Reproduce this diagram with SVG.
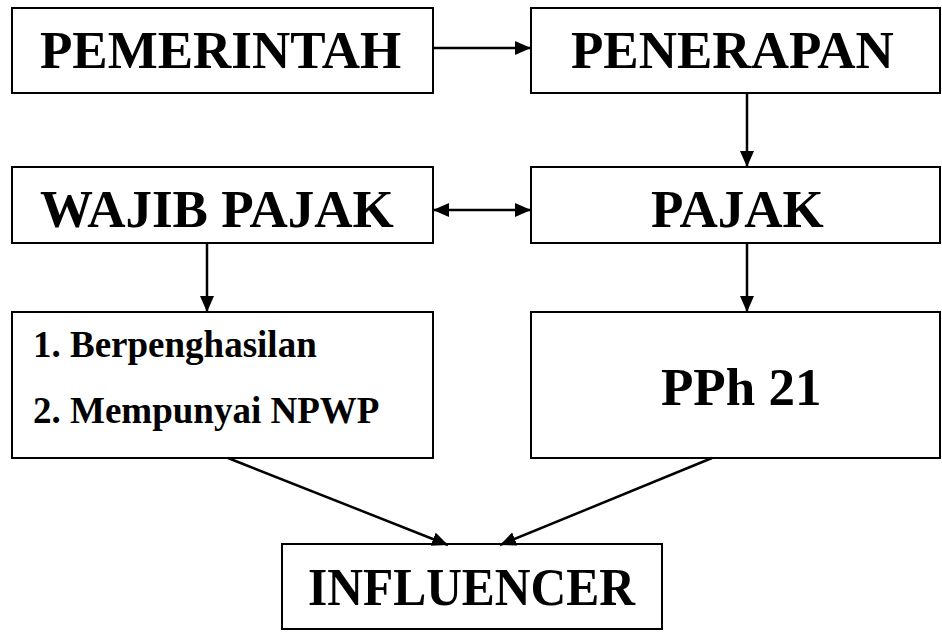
<svg xmlns="http://www.w3.org/2000/svg" width="942" height="632" viewBox="0 0 942 632">
<style>
.box{fill:#fff;stroke:#000;stroke-width:2}
.h{font-family:"Liberation Serif","Times New Roman",serif;font-weight:bold;font-size:53px;fill:#000}
.l{font-family:"Liberation Serif","Times New Roman",serif;font-weight:bold;font-size:37px;fill:#000}
.c{fill:none;stroke:#000;stroke-width:2.5}
</style>
<defs>
<marker id="ah" markerUnits="userSpaceOnUse" markerWidth="18" markerHeight="16" refX="16" refY="7" orient="auto-start-reverse">
<path d="M0,0 L16,7 L0,14 z" fill="#000"/>
</marker>
</defs>
<rect width="942" height="632" fill="#fff"/>
<g id="pemerintah"><rect class="box" x="12" y="8" width="421" height="85"/><text class="h" x="40" y="68">PEMERINTAH</text></g>
<g id="penerapan"><rect class="box" x="531" y="8" width="409" height="85"/><text class="h" x="571" y="68">PENERAPAN</text></g>
<g id="wajib-pajak"><rect class="box" x="12" y="167" width="421" height="76"/><text class="h" x="40" y="227">WAJIB PAJAK</text></g>
<g id="pajak"><rect class="box" x="531" y="167" width="409" height="76"/><text class="h" x="651" y="227">PAJAK</text></g>
<g id="syarat"><rect class="box" x="12" y="312" width="421" height="146"/><text class="l" x="33" y="357">1. Berpenghasilan</text><text class="l" x="33" y="423">2. Mempunyai NPWP</text></g>
<g id="pph21"><rect class="box" x="531" y="312" width="409" height="146"/><text class="h" x="661" y="405">PPh 21</text></g>
<g id="influencer"><rect class="box" x="282" y="544" width="380" height="85"/><text class="h" x="308" y="605" textLength="327" lengthAdjust="spacingAndGlyphs">INFLUENCER</text></g>
<g id="connectors">
<line class="c" x1="433" y1="48" x2="531" y2="48" marker-end="url(#ah)"/>
<line class="c" x1="433" y1="210" x2="531" y2="210" marker-start="url(#ah)" marker-end="url(#ah)"/>
<line class="c" x1="747" y1="93" x2="747" y2="167" marker-end="url(#ah)"/>
<line class="c" x1="207" y1="243" x2="207" y2="312" marker-end="url(#ah)"/>
<line class="c" x1="747" y1="243" x2="747" y2="312" marker-end="url(#ah)"/>
<line class="c" x1="228" y1="458" x2="448" y2="545" marker-end="url(#ah)"/>
<line class="c" x1="712" y1="458" x2="500" y2="545" marker-end="url(#ah)"/>
</g>
</svg>
